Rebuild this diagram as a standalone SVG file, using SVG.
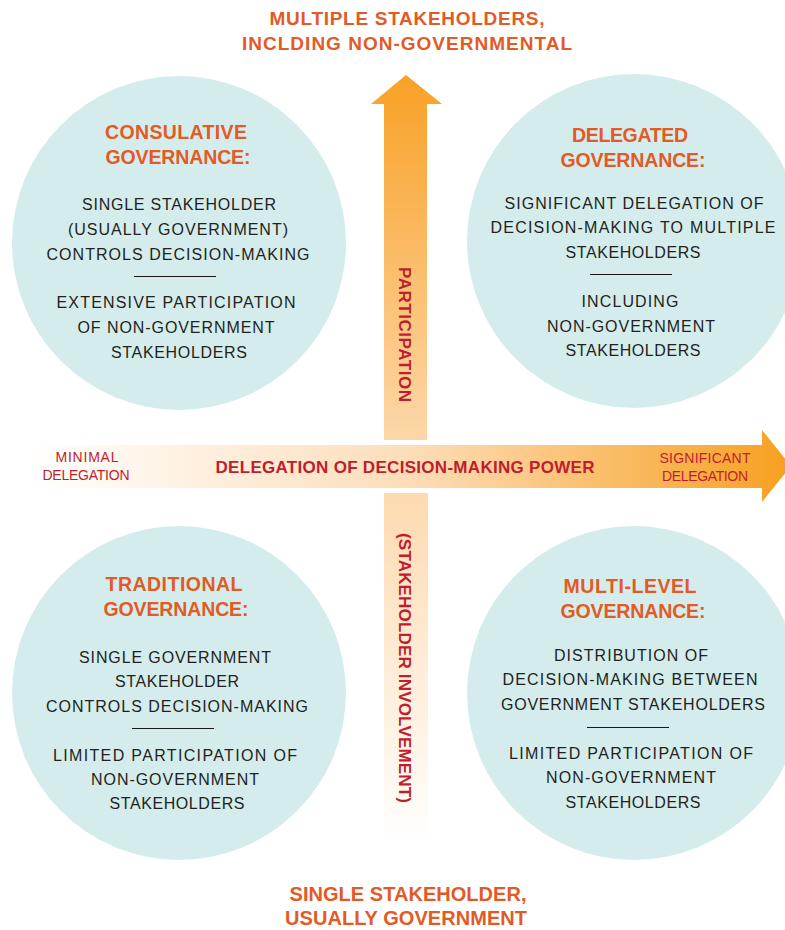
<svg xmlns="http://www.w3.org/2000/svg" width="785" height="930" viewBox="0 0 785 930">
<defs>
<linearGradient id="gUp" x1="0" y1="75" x2="0" y2="440" gradientUnits="userSpaceOnUse">
<stop offset="0" stop-color="#F8A126"/>
<stop offset="1" stop-color="#FDD7A9"/>
</linearGradient>
<linearGradient id="gDown" x1="0" y1="493" x2="0" y2="845" gradientUnits="userSpaceOnUse">
<stop offset="0" stop-color="#FDDAB0"/>
<stop offset="1" stop-color="#FFFFFF"/>
</linearGradient>
<linearGradient id="gRight" x1="30" y1="0" x2="790" y2="0" gradientUnits="userSpaceOnUse">
<stop offset="0" stop-color="#FFFFFF"/>
<stop offset="0.5" stop-color="#FDDDB8"/>
<stop offset="1" stop-color="#F7A020"/>
</linearGradient>
</defs>
<style>
.c{fill:#D4EDEC}
.t{font-family:"Liberation Sans",Arial,sans-serif;font-weight:bold;font-size:19.5px;fill:#E25A26;text-anchor:middle}
.b{font-family:"Liberation Sans",Arial,sans-serif;font-size:16px;fill:#231F20;text-anchor:middle}
.h{font-family:"Liberation Sans",Arial,sans-serif;font-weight:bold;fill:#E25A26;text-anchor:middle}
.r{font-family:"Liberation Sans",Arial,sans-serif;fill:#BE1E2D;text-anchor:middle}
.rb{font-family:"Liberation Sans",Arial,sans-serif;font-weight:bold;fill:#BE1E2D;text-anchor:middle}
.sep{stroke:#1A1718;stroke-width:1}
</style>
<rect width="785" height="930" fill="#FFFFFF"/>

<g id="axis-labels">
<text class="h" font-size="19" x="407" y="25" textLength="275" lengthAdjust="spacing">MULTIPLE STAKEHOLDERS,</text>
<text class="h" font-size="19" x="407" y="50" textLength="330" lengthAdjust="spacing">INCLDING NON-GOVERNMENTAL</text>
<text class="h" font-size="20" x="408" y="901" textLength="237" lengthAdjust="spacing">SINGLE STAKEHOLDER,</text>
<text class="h" font-size="20" x="406" y="925" textLength="242" lengthAdjust="spacing">USUALLY GOVERNMENT</text>
</g>

<g id="node-consultative">
<circle class="c" cx="179" cy="243" r="167"/>
<text class="t" x="176" y="139" textLength="142" lengthAdjust="spacing">CONSULATIVE</text>
<text class="t" x="178" y="164" textLength="145" lengthAdjust="spacing">GOVERNANCE:</text>
<text class="b" x="179" y="210" textLength="194" lengthAdjust="spacing">SINGLE STAKEHOLDER</text>
<text class="b" x="178" y="235" textLength="220" lengthAdjust="spacing">(USUALLY GOVERNMENT)</text>
<text class="b" x="178" y="260" textLength="263" lengthAdjust="spacing">CONTROLS DECISION-MAKING</text>
<line class="sep" x1="134" y1="276.5" x2="216" y2="276.5"/>
<text class="b" x="176" y="308" textLength="239" lengthAdjust="spacing">EXTENSIVE PARTICIPATION</text>
<text class="b" x="176" y="333" textLength="197" lengthAdjust="spacing">OF NON-GOVERNMENT</text>
<text class="b" x="179" y="358" textLength="136" lengthAdjust="spacing">STAKEHOLDERS</text>
</g>

<g id="node-delegated">
<circle class="c" cx="634" cy="241" r="167"/>
<text class="t" x="630" y="142" textLength="116" lengthAdjust="spacing">DELEGATED</text>
<text class="t" x="633" y="167" textLength="145" lengthAdjust="spacing">GOVERNANCE:</text>
<text class="b" x="634" y="209" textLength="259" lengthAdjust="spacing">SIGNIFICANT DELEGATION OF</text>
<text class="b" x="633" y="233" textLength="285" lengthAdjust="spacing">DECISION-MAKING TO MULTIPLE</text>
<text class="b" x="633" y="258" textLength="135" lengthAdjust="spacing">STAKEHOLDERS</text>
<line class="sep" x1="590" y1="274.5" x2="672" y2="274.5"/>
<text class="b" x="630" y="307" textLength="97" lengthAdjust="spacing">INCLUDING</text>
<text class="b" x="631" y="332" textLength="168" lengthAdjust="spacing">NON-GOVERNMENT</text>
<text class="b" x="633" y="356" textLength="135" lengthAdjust="spacing">STAKEHOLDERS</text>
</g>

<g id="node-traditional">
<circle class="c" cx="179" cy="693" r="167"/>
<text class="t" x="174" y="591" textLength="137" lengthAdjust="spacing">TRADITIONAL</text>
<text class="t" x="176" y="616" textLength="145" lengthAdjust="spacing">GOVERNANCE:</text>
<text class="b" x="175" y="663" textLength="192" lengthAdjust="spacing">SINGLE GOVERNMENT</text>
<text class="b" x="177" y="687" textLength="124" lengthAdjust="spacing">STAKEHOLDER</text>
<text class="b" x="177" y="712" textLength="262" lengthAdjust="spacing">CONTROLS DECISION-MAKING</text>
<line class="sep" x1="132" y1="728.5" x2="214" y2="728.5"/>
<text class="b" x="175" y="761" textLength="244" lengthAdjust="spacing">LIMITED PARTICIPATION OF</text>
<text class="b" x="175" y="785" textLength="168" lengthAdjust="spacing">NON-GOVERNMENT</text>
<text class="b" x="177" y="809" textLength="135" lengthAdjust="spacing">STAKEHOLDERS</text>
</g>

<g id="node-multilevel">
<circle class="c" cx="634" cy="693" r="167"/>
<text class="t" x="630" y="593" textLength="133" lengthAdjust="spacing">MULTI-LEVEL</text>
<text class="t" x="633" y="618" textLength="145" lengthAdjust="spacing">GOVERNANCE:</text>
<text class="b" x="631" y="661" textLength="154" lengthAdjust="spacing">DISTRIBUTION OF</text>
<text class="b" x="630" y="685" textLength="255" lengthAdjust="spacing">DECISION-MAKING BETWEEN</text>
<text class="b" x="633" y="710" textLength="264" lengthAdjust="spacing">GOVERNMENT STAKEHOLDERS</text>
<line class="sep" x1="587" y1="727.5" x2="669" y2="727.5"/>
<text class="b" x="631" y="759" textLength="244" lengthAdjust="spacing">LIMITED PARTICIPATION OF</text>
<text class="b" x="631" y="783" textLength="170" lengthAdjust="spacing">NON-GOVERNMENT</text>
<text class="b" x="633" y="808" textLength="135" lengthAdjust="spacing">STAKEHOLDERS</text>
</g>

<g id="connectors">
<path id="arrow-up" d="M384,440 L384,104 L371,104 L406,75 L442,104 L427,104 L427,440 Z" fill="url(#gUp)"/>
<rect id="axis-down" x="384" y="493" width="44" height="352" fill="url(#gDown)"/>
<path id="arrow-right" d="M30,445 L762,445 L762,430 L791,466 L762,502 L762,488 L30,488 Z" fill="url(#gRight)"/>
<text class="r" font-size="14" x="87" y="462" textLength="63" lengthAdjust="spacing">MINIMAL</text>
<text class="r" font-size="14" x="86" y="480" textLength="87" lengthAdjust="spacing">DELEGATION</text>
<text class="rb" font-size="17" x="405" y="473" textLength="379" lengthAdjust="spacing">DELEGATION OF DECISION-MAKING POWER</text>
<text class="r" font-size="14" x="705" y="463" textLength="91" lengthAdjust="spacing">SIGNIFICANT</text>
<text class="r" font-size="14" x="705" y="481" textLength="86" lengthAdjust="spacing">DELEGATION</text>
<text class="rb" font-size="17" transform="translate(399,334.5) rotate(90)" x="0" y="0" textLength="135" lengthAdjust="spacing">PARTICIPATION</text>
<text class="rb" font-size="17" transform="translate(399,668) rotate(90)" x="0" y="0" textLength="270" lengthAdjust="spacing">(STAKEHOLDER INVOLVEMENT)</text>
</g>
</svg>
